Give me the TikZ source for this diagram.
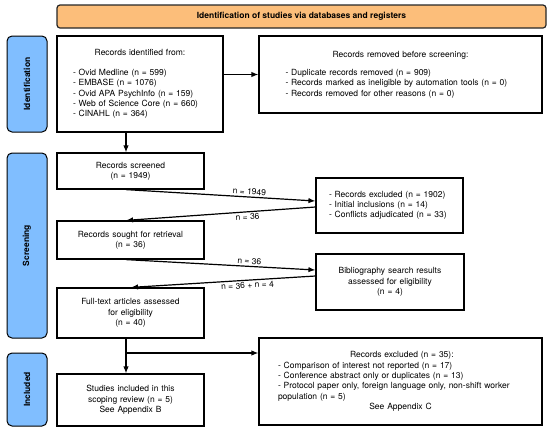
\documentclass[tikz,border=0pt]{standalone}
\usepackage{fontspec}
\setmainfont{TeX Gyre Heros}
\usetikzlibrary{arrows.meta}

\definecolor{phaseblue}{RGB}{128,190,255}
\definecolor{banneror}{RGB}{252,190,122}

\begin{document}
\begin{tikzpicture}[x=1pt,y=-1pt,
    every node/.style={font=\fontsize{8.5}{10.3}\selectfont},
    box/.style={draw,rectangle,line width=1.2pt,inner sep=0pt},
    cbox/.style={box,minimum width=147,text width=137,align=center},
    phase/.style={draw,line width=1pt,rounded corners=5pt,fill=phaseblue,
      inner sep=0pt,rotate=90,minimum height=40,
      font=\fontsize{8.5}{10.3}\selectfont\bfseries},
    flow/.style={-{Latex[length=7pt,width=5.5pt]},line width=1.2pt},
    count/.style={sloped,inner sep=1.5pt}]

    \useasboundingbox (0,0) rectangle (550,432);

    % Title banner
    \node[draw=black!85,line width=1.2pt,rounded corners=3pt,fill=banneror,
      minimum width=489,minimum height=23,inner sep=0pt,
      font=\fontsize{8.5}{10.3}\selectfont\bfseries] (banner) at (301.5,16.5)
      {Identification of studies via databases and registers};

    % Phase labels
    \node[phase,minimum width=96]  (idph) at (27,84)    {Identification};
    \node[phase,minimum width=185] (scph) at (27,245.5) {Screening};
    \node[phase,minimum width=73]  (inph) at (27,389.5) {Included};

    % Identification
    \node[box,minimum width=166,minimum height=96,text width=134,align=left]
      (ident) at (140,84)
      {{\centering Records identified from:\par}\vspace{9.7pt}
       - Ovid Medline (n = 599)\\
       - EMBASE (n = 1076)\\
       - Ovid APA PsychInfo (n = 159)\\
       - Web of Science Core (n = 660)\\
       - CINAHL (n = 364)\par\vspace{14pt}};
    \node[box,minimum width=283,minimum height=77,text width=230,align=left]
      (removed) at (400.5,74.5)
      {{\centering Records removed before screening:\par}\vspace{7.7pt}
       - Duplicate records removed (n = 909)\\
       - Records marked as ineligible by automation tools (n = 0)\\
       - Records removed for other reasons (n = 0)\par\vspace{7pt}};

    % Screening
    \node[cbox,minimum height=36] (screened) at (130.5,171)
      {Records screened\\(n = 1949)};
    \node[box,minimum width=147,minimum height=55,text width=121,align=left]
      (excluded) at (389.5,205.5)
      {- Records excluded (n = 1902)\\
       - Initial inclusions (n = 14)\\
       - Conflicts adjudicated (n = 33)\par\vspace{6pt}};
    \node[cbox,minimum height=38] (sought) at (130.5,240)
      {Records sought for retrieval\\(n = 36)\par\vspace{2pt}};
    \node[cbox,minimum width=148,minimum height=56] (biblio) at (390,282)
      {Bibliography search results\\assessed for eligibility\\(n = 4)};
    \node[cbox,minimum height=50] (fulltext) at (130.5,313)
      {Full-text articles assessed\\for eligibility\\(n = 40)\par\vspace{3pt}};

    % Included
    \node[cbox,minimum height=52] (studies) at (130.5,400)
      {Studies included in this\\scoping review (n = 5)\\See Appendix B\par\vspace{4pt}};
    \node[box,minimum width=283,minimum height=87,text width=245,align=left]
      (excl2) at (400.5,381.5)
      {\hspace*{72pt}Records excluded (n = 35):\\
       - Comparison of interest not reported (n = 17)\\
       - Conference abstract only or duplicates (n = 13)\\
       - Protocol paper only, foreign language only, non-shift worker
       population (n = 5)\par
       {\centering See Appendix C\par}\vspace{11pt}};

    % Flow
    \coordinate (spine) at (126,0);
    \coordinate (fork) at (126,353);

    \draw[flow] (ident.east |- removed.west) -- (removed.west);
    \draw[flow] (ident.south -| spine) -- (screened.north -| spine);

    \draw[flow] (screened.south -| spine) -- ([yshift=4.5pt]excluded.west)
      node[count,pos=0.65,above] {n = 1949};
    \draw[flow] ([yshift=-1.5pt]excluded.west) -- (sought.north -| spine)
      node[count,pos=0.36,below] {n = 36};

    \draw[flow] (sought.south -| spine) -- ([yshift=12pt]biblio.west)
      node[count,pos=0.65,above] {n = 36};
    \draw[flow] ([yshift=6pt]biblio.west) -- ([xshift=5pt]fulltext.north -| spine)
      node[count,pos=0.37,below] {n = 36 + n = 4};

    \draw[flow] (fulltext.south -| spine) -- (studies.north -| spine);
    \draw[flow] (fork) -- (fork -| excl2.west);

  \end{tikzpicture}
\end{document}
